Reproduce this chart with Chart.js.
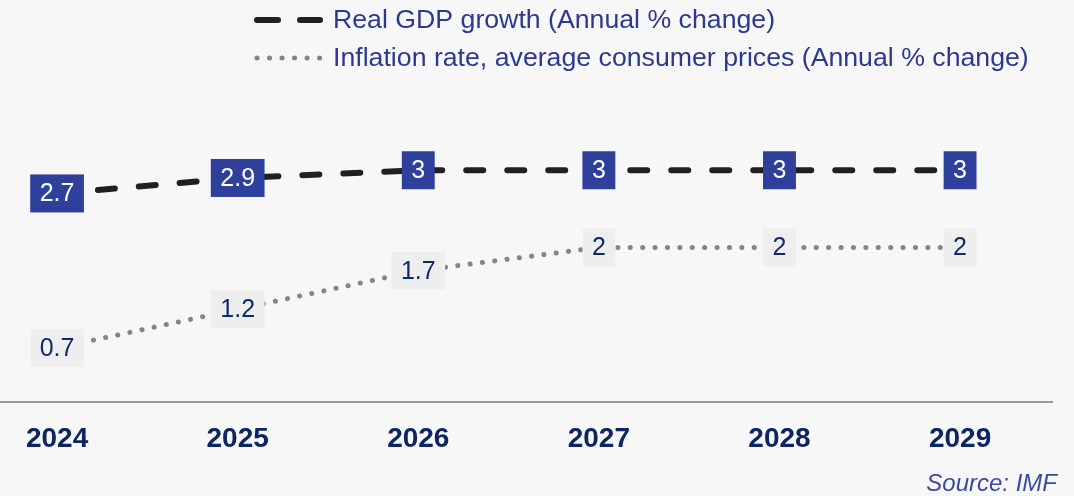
<!DOCTYPE html>
<html>
<head>
<meta charset="utf-8">
<script src="https://cdn.jsdelivr.net/npm/chart.js@4/dist/chart.umd.min.js"></script>
<style>
  html, body { margin: 0; padding: 0; background: #f7f7f7; }
  #wrap { width: 1074px; height: 496px; position: relative; }
</style>
</head>
<body>
<div id="wrap"><canvas id="c"></canvas></div>
<script>
// Forecast values, annual % change
const years = [2024, 2025, 2026, 2027, 2028, 2029];
const gdpGrowth = [2.7, 2.9, 3, 3, 3, 3];
const inflation = [0.7, 1.2, 1.7, 2, 2, 2];
const seriesNames = [
  'Real GDP growth (Annual % change)',
  'Inflation rate, average consumer prices (Annual % change)'
];
const sourceNote = 'Source: IMF';

const FONT = '"Liberation Sans", Arial, Helvetica, sans-serif';
const NAVY = '#2b3990';

// Value boxes drawn on top of each point
const valueBoxes = {
  id: 'valueBoxes',
  afterDatasetsDraw(chart) {
    const ctx = chart.ctx;
    ctx.save();
    ctx.font = '25px ' + FONT;
    ctx.textAlign = 'center';
    ctx.textBaseline = 'middle';
    chart.data.datasets.forEach((ds, i) => {
      const meta = chart.getDatasetMeta(i);
      meta.data.forEach((pt, j) => {
        const txt = String(ds.data[j].y);
        const w = ctx.measureText(txt).width + 19;
        const h = 38;
        ctx.fillStyle = ds.boxColor;
        ctx.fillRect(pt.x - w / 2, pt.y - h / 2, w, h);
        ctx.fillStyle = ds.boxText;
        ctx.fillText(txt, pt.x, pt.y + 1);
      });
    });
    ctx.restore();
  }
};

// Legend rows and source note
const legendAndNote = {
  id: 'legendAndNote',
  afterDraw(chart) {
    const ctx = chart.ctx;
    ctx.save();
    const rows = [20, 58];
    chart.data.datasets.forEach((ds, i) => {
      const y = rows[i];
      ctx.strokeStyle = ds.borderColor;
      ctx.lineWidth = ds.borderWidth;
      ctx.lineCap = 'round';
      ctx.setLineDash(ds.legendDash);
      ctx.beginPath();
      ctx.moveTo(257, y);
      ctx.lineTo(320, y);
      ctx.stroke();
      ctx.setLineDash([]);
      ctx.fillStyle = NAVY;
      ctx.font = '26.7px ' + FONT;
      ctx.textAlign = 'left';
      ctx.textBaseline = 'middle';
      ctx.fillText(ds.label, 333, y + 1);
    });
    ctx.font = 'italic 24px ' + FONT;
    ctx.fillStyle = '#3b4ba0';
    ctx.textAlign = 'right';
    ctx.textBaseline = 'middle';
    ctx.fillText(sourceNote, 1057, 484);
    ctx.restore();
  }
};

new Chart(document.getElementById('c'), {
  type: 'line',
  data: {
    datasets: [
      {
        label: seriesNames[0],
        data: years.map((x, i) => ({ x, y: gdpGrowth[i] })),
        borderColor: '#231f20',
        borderWidth: 6,
        borderDash: [17, 24],
        borderCapStyle: 'round',
        legendDash: [21, 22],
        boxColor: '#2e3f9c',
        boxText: '#ffffff',
        pointRadius: 0,
        tension: 0
      },
      {
        label: seriesNames[1],
        data: years.map((x, i) => ({ x, y: inflation[i] })),
        borderColor: '#858585',
        borderWidth: 5,
        borderDash: [0.1, 12.3],
        borderCapStyle: 'round',
        legendDash: [0.1, 12.4],
        boxColor: '#eeeeee',
        boxText: '#0d2a6b',
        pointRadius: 0,
        tension: 0
      }
    ]
  },
  options: {
    responsive: true,
    maintainAspectRatio: false,
    animation: false,
    events: [],
    layout: { padding: { top: 93, right: 22, left: 0, bottom: 0 } },
    plugins: {
      legend: { display: false },
      tooltip: { enabled: false }
    },
    scales: {
      x: {
        type: 'linear',
        min: 2023.684,
        max: 2029.509,
        afterFit(scale) { scale.height = 94; },
        grid: { display: false, drawTicks: false },
        border: { display: true, color: '#9a9a9a', width: 2 },
        ticks: {
          stepSize: 1,
          includeBounds: false,
          autoSkip: false,
          maxRotation: 0,
          padding: 20,
          color: '#0d2561',
          font: { family: FONT, size: 28, weight: 'bold' },
          callback: v => (years.includes(v) ? String(v) : '')
        }
      },
      y: {
        display: false,
        min: 0,
        max: 4
      }
    }
  },
  plugins: [valueBoxes, legendAndNote]
});
</script>
</body>
</html>
